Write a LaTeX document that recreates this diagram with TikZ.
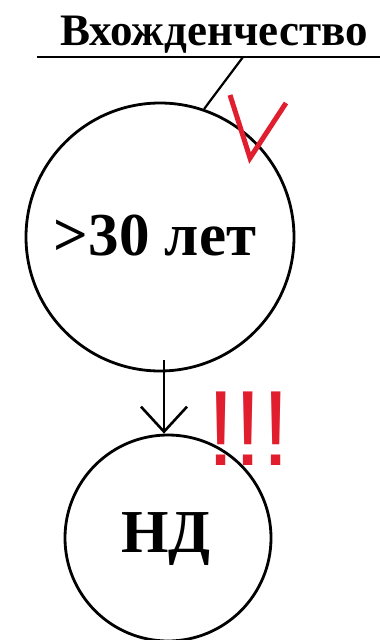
\documentclass[tikz,border=0pt]{standalone}
\usepackage{fontspec}
\setmainfont{Liberation Serif}
\newfontfamily\exclfont{Liberation Sans}
\usetikzlibrary{arrows.meta}
\definecolor{markred}{RGB}{225,30,45}
\tikzset{
  ring/.style={draw, circle, line width=2.8pt, inner sep=0pt},
  bigtext/.style={anchor=base, inner sep=0pt, font=\bfseries\fontsize{61}{61}\selectfont},
  titletext/.style={anchor=base, inner sep=0pt, font=\bfseries\fontsize{45}{45}\selectfont},
  thinline/.style={line width=2.2pt},
  arrowline/.style={line width=2.6pt, -{Straight Barb[length=25pt, width=46pt, line width=2.6pt]}},
  checkmark/.style={draw=markred, line width=5pt, line join=miter},
}
\begin{document}
\begin{tikzpicture}[x=1pt, y=-1pt]
\useasboundingbox (0,0) rectangle (380,640);
% title and rule
\node[titletext] (title) at (214,45) {Вхожденчество};
\coordinate (ruleL) at (37,57);
\coordinate (ruleR) at (380,57);
\coordinate (ruleP) at (243,57);
\draw[thinline] (ruleL) -- (ruleR);
% big circle
\node[ring, minimum size=268pt] (age) at (160,237) {};
\node[bigtext] (agelbl) at (155,255) {>30 лет};
\draw[thinline] (ruleP) -- (age.71);
% checkmark
\coordinate (c1) at (230,95);
\coordinate (c2) at (250,158);
\coordinate (c3) at (286,103);
\draw[checkmark] (c1) -- (c2) -- (c3);
% small circle
\node[ring, minimum size=206pt] (nd) at (168,538) {};
\node[bigtext] (ndlbl) at (166,552) {НД};
% arrow
\coordinate (arrtop) at (164,360);
\draw[arrowline] (arrtop) -- (arrtop |- nd.north);
% exclamation marks
\node[anchor=base, inner sep=0pt, text=markred, font=\exclfont\fontsize{107}{107}\selectfont] (excl) at (248.5,465) {\scalebox{0.92}[1]{!!!}};
\end{tikzpicture}
\end{document}
